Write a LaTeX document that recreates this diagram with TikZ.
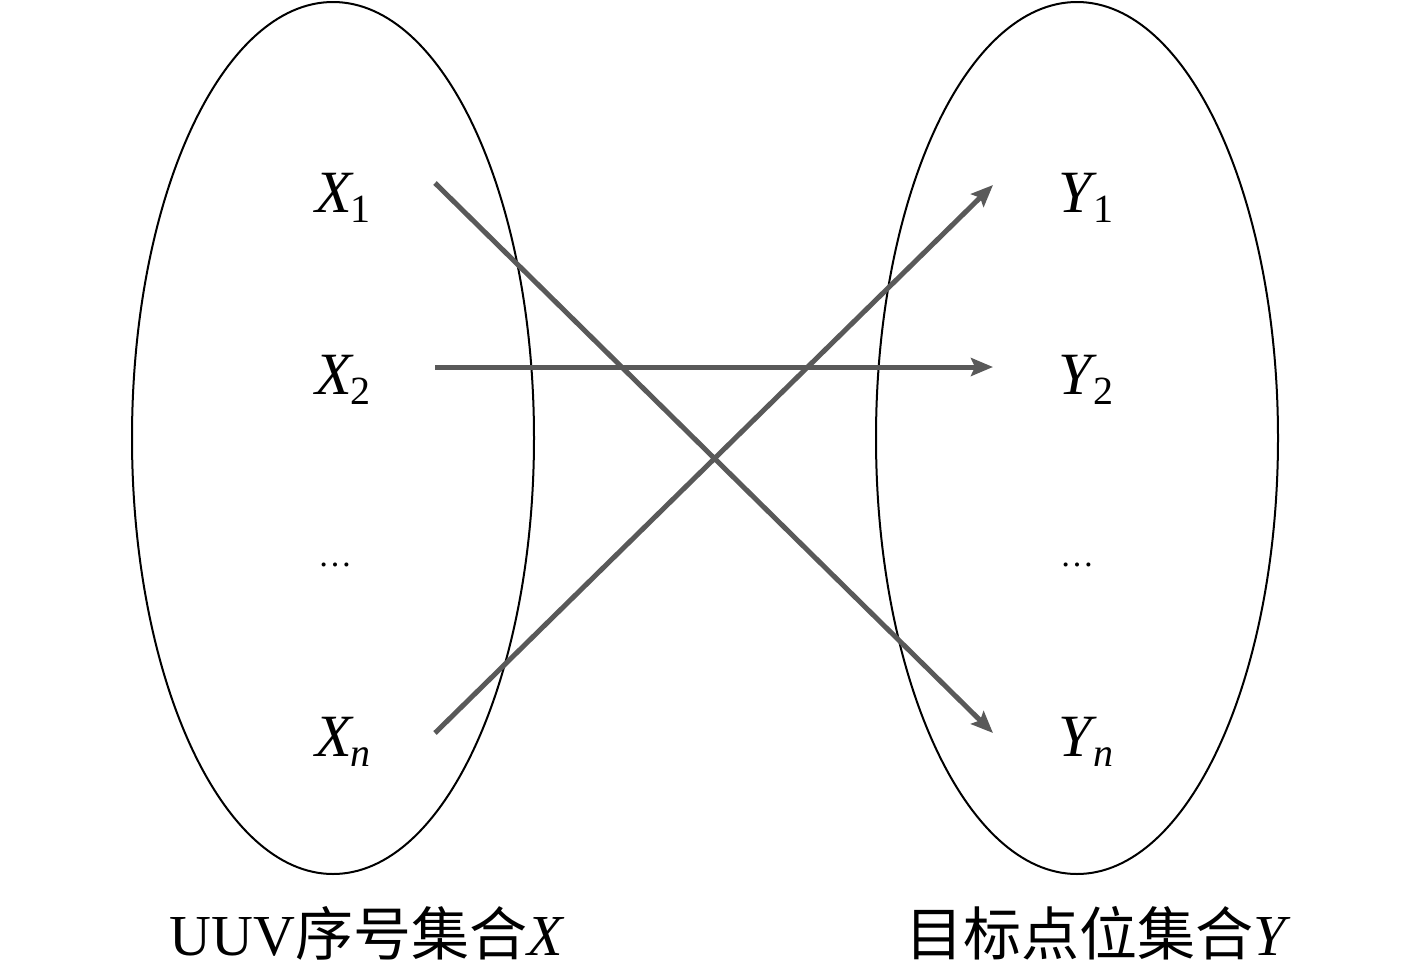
\documentclass[tikz,border=0pt]{standalone}
\usepackage{fontspec}
\setmainfont{Liberation Serif}
\newfontfamily\cjk{Noto Sans CJK SC}
\usetikzlibrary{arrows.meta}
\definecolor{arrgray}{RGB}{89,89,89}
\newcommand\sublab[2]{\textit{#1}\kern-3pt\raisebox{-10pt}{\fontsize{40}{44}\selectfont #2}}
\begin{document}
\begin{tikzpicture}[x=1pt,y=-1pt,
  setellipse/.style={draw=black,line width=2pt},
  elem/.style={inner sep=0pt,anchor=base west,font=\fontsize{60}{66}\selectfont},
  dotsnode/.style={inner sep=0pt,anchor=base,font=\fontsize{34}{40}\selectfont},
  caption/.style={inner sep=0pt,anchor=base,font=\fontsize{58}{64}\selectfont},
  maparrow/.style={draw=arrgray,line width=5pt,-{Stealth[length=22pt,width=18pt,inset=4pt]}}]
\useasboundingbox (0,0) rectangle (1417,975);
\draw[setellipse] (333,438) ellipse [x radius=201, y radius=436];
\draw[setellipse] (1077,438) ellipse [x radius=201, y radius=436];
\node[elem] (x1) at (315,212) {\sublab{X}{1}};
\node[elem] (x2) at (315,394) {\sublab{X}{2}};
\node[dotsnode] (xd) at (335,566) {\ldots};
\node[elem] (xn) at (315,756) {\sublab{X}{\textit{n}}};
\node[elem] (y1) at (1058,212) {\sublab{Y}{1}};
\node[elem] (y2) at (1058,394) {\sublab{Y}{2}};
\node[dotsnode] (yd) at (1077,566) {\ldots};
\node[elem] (yn) at (1058,756) {\sublab{Y}{\textit{n}}};
\coordinate (s1) at (435,183);
\coordinate (s2) at (435,367);
\coordinate (sn) at (435,733);
\coordinate (t1) at (993,185);
\coordinate (t2) at (993,367);
\coordinate (tn) at (993,733);
\draw[maparrow] (s1) -- (tn);
\draw[maparrow] (s2) -- (t2);
\draw[maparrow] (sn) -- (t1);
\node[caption] (capx) at (367,955) {UUV{\cjk 序号集合}\textit{X}};
\node[caption] (capy) at (1098,955) {{\cjk 目标点位集合}\textit{Y}};
\end{tikzpicture}
\end{document}
